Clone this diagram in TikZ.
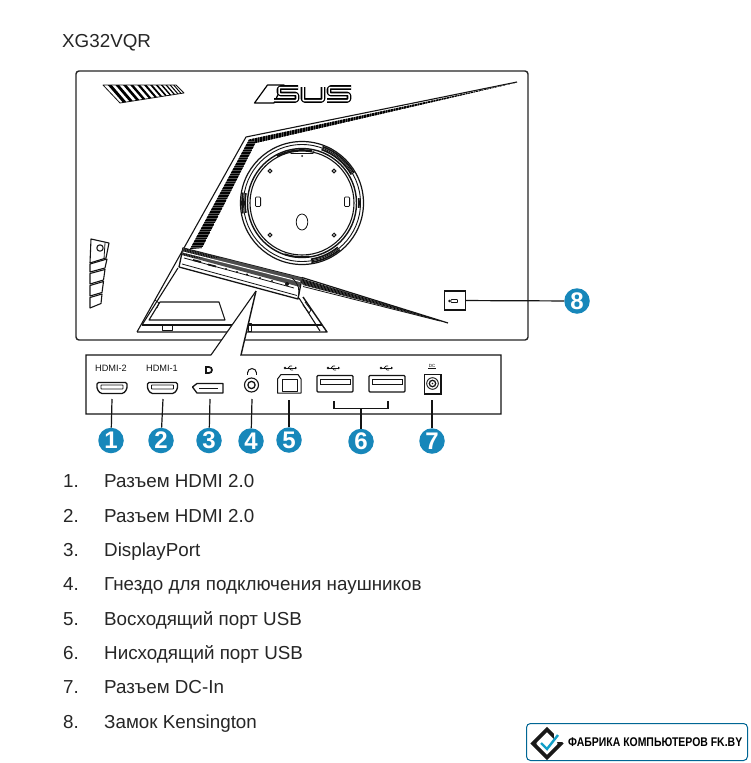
\documentclass[tikz,border=0pt]{standalone}
\usepackage{fontspec}
\setmainfont{Liberation Sans}
\newfontfamily\markfont[FakeStretch=0.83]{Liberation Sans}
\definecolor{badge}{HTML}{1787BA}
\definecolor{inkline}{HTML}{141414}
\tikzset{
  ln/.style={draw=inkline,line width=1.1pt,line join=round},
  thin ln/.style={draw=inkline,line width=0.8pt,line join=round},
  conn/.style={draw=inkline,line width=1.2pt},
  numbadge/.style={circle,fill=badge,text=white,inner sep=0pt,minimum size=25.5pt,font=\fontsize{24}{24}\selectfont\bfseries},
  porttxt/.style={inner sep=0pt,text=inkline,font=\fontsize{9.2}{10}\selectfont},
  listtxt/.style={anchor=base west,inner sep=0pt,text=black!85,font=\fontsize{18.8}{20}\selectfont},
  logoback/.style={draw=black,line width=4.6pt,line join=round,rounded corners=1.5pt},
  logofront/.style={draw=white,line width=1.5pt,line join=round,rounded corners=1pt},
  ringband/.style={draw=inkline,line width=1.7pt},
}
\newcommand{\hatchband}[3]{% polygon, spacing, slant
  \begin{scope}
    \clip #1;
    \fill[black!68] #1;
    \foreach \hx in {100,#2,...,540} {\draw[black,line width=0.7pt] (\hx,60) -- ++(#3,300);}
  \end{scope}}
\newcommand{\usbmark}[2]{%
  \draw[inkline,line width=0.7pt] (#1-5,#2) -- (#1+5,#2);
  \fill[inkline] (#1-5,#2) circle[radius=1.3];
  \fill[inkline] (#1+5,#2-1.4) -- (#1+7,#2) -- (#1+5,#2+1.4) -- cycle;
  \draw[inkline,line width=0.7pt] (#1-2,#2) -- (#1,#2-2) -- (#1+2,#2-2);
  \draw[inkline,line width=0.7pt] (#1-1,#2) -- (#1+1,#2+2) -- (#1+3,#2+2);}
\newcommand{\ringarc}[4]{% from, to, radius, style
  \draw[#4] ([shift={(302,203)}]#1:#3) arc[start angle=#1,end angle=#2,radius=#3];}
\begin{document}
\begin{tikzpicture}[x=1pt,y=-1pt]
\useasboundingbox (0,0) rectangle (750,763);
\fill[white] (0,0) rectangle (750,763);

\node[anchor=base west,inner sep=0pt,text=black!85,font=\fontsize{18.8}{20}\selectfont] (model) at (62,47) {XG32VQR};

% monitor body
\draw[draw=black!85,line width=1.4pt,rounded corners=3pt] (76,71) rectangle (528,340);

% top-left vent
\begin{scope}
  \clip (103,85) -- (176,85) -- (184,93) -- (120,103) -- cycle;
  \foreach \sx/\sw in {108/3,115.5/2.8,123/2.6,130/2.4,137/2.2,143.5/2,149.5/1.8,155/1.6,160/1.4,164.5/1.2,168.5/1,172/0.9,175.5/0.8,179/0.7}
    {\draw[black,line width=\sw pt] (\sx,83) -- ++(19,22);}
\end{scope}
\draw[thin ln] (103,85) -- (176,85) -- (184,93) -- (120,103) -- cycle;

% ASUS logo
\draw[draw=black,line width=1.2pt,line join=round] (254.5,103) -- (267.5,85) -- (284,85) -- (281,88.5) -- (274,103) -- cycle;
\foreach \st in {logoback,logofront}{
  \draw[\st] (298,87.5) -- (279,87.5) -- (279,94) -- (297,94) -- (297,100.5) -- (274,100.5);
  \draw[\st] (303,87) -- (303,100.5) -- (323,100.5) -- (323,87);
  \draw[\st] (351,87.5) -- (329,87.5) -- (329,94) -- (349,94) -- (349,100.5) -- (327,100.5);
}

% upper diagonal vents
\draw[ln] (517,82) -- (246,137) -- (137,332);
\hatchband{(517,82.5) -- (249,139.5) -- (256,143) -- cycle}{101.6}{0}
\begin{scope}
  \clip (249,139.5) -- (256,142) -- (202,248) -- (190,249) -- cycle;
  \fill[black!68] (249,139.5) -- (256,142) -- (202,248) -- (190,249) -- cycle;
  \foreach \hy in {136,137.6,...,252} {\draw[black,line width=0.8pt] (185,\hy) -- (262,\hy);}
\end{scope}

% stand
\draw[ln] (178,268) -- (142,325);
\draw[ln,line width=1.4pt] (137,332) -- (327,332) -- (303,297);
\draw[ln] (142,325) -- (322,325);
\draw[ln] (299,298) -- (320,331);
\draw[ln] (160,302) -- (219,302) -- (225,320) -- (149,320) -- cycle;
\draw[thin ln] (162,324) -- (162,330.5) -- (172,330.5) -- (172,324) -- cycle;
\draw[thin ln] (248,323) rectangle (251,331);
\draw[thin ln] (155,300) -- (159,303) -- (157,308) ;
\draw[thin ln] (305,302) -- (311,310) -- (309,313) -- (303,305);

% lower right vent
\hatchband{(300,278) -- (448,323) -- (303,285) -- cycle}{101.5}{-70}
\draw[ln,line width=1.2pt] (302,277.5) -- (448,323);
\draw[thin ln] (303,286.5) -- (440,321);

% port panel
\filldraw[fill=white,ln,line width=1.3pt] (183,248) -- (302,278) -- (298,299) -- (179,267) -- cycle;
\begin{scope}
  \clip (183,248) -- (302,278) -- (300,287) -- (182,255) -- cycle;
  \fill[black!70] (183,248) -- (302,278) -- (300,287) -- (182,255) -- cycle;
  \foreach \hx in {170,171.7,...,310} {\draw[black,line width=0.6pt] (\hx,244) -- ++(-3,14);}
  \fill[white] (183,251.5) -- (300,281) -- (300,282) -- (183,252.5) -- cycle;
\end{scope}
\draw[thin ln] (182,264) -- (297,295.5);
\draw[thin ln] (184,258) -- (294,288);
\foreach \px/\py in {226/269,237/272,247/274.5,260/278,272/281}{\fill[inkline] (\px,\py) circle[radius=1.2];}
\fill[inkline] (287,284) circle[radius=2];
\draw[inkline,line width=1.8pt] (193,260) -- (201,262);
\draw[inkline,line width=1.8pt] (208,264.5) -- (216,266.5);
\draw[thin ln] (292,278) .. controls (299,284) and (300,290) .. (298,298);

% side buttons
\draw[ln] (91,239) -- (109,243) -- (106,258) -- (90,263) -- cycle;
\draw[ln] (100,248) circle[radius=3.2];
\draw[thin ln] (105,243) -- (104,259);
\draw[ln] (90,264) -- (107,259) -- (105,268) -- (90,272) -- cycle;
\draw[ln] (90,273.5) -- (105,269.5) -- (103.5,280) -- (90,284) -- cycle;
\draw[ln] (90,285.5) -- (103.5,281.5) -- (102,292.5) -- (90,296) -- cycle;
\draw[ln] (90,297.5) -- (102,294) -- (101,303.5) -- (90,308) -- cycle;

% mount
\foreach \rr/\wd in {61.5/1.2,58.5/0.9,54.5/1.4,52/1.1}{\draw[draw=inkline,line width=\wd pt] (302,203) circle[radius=\rr];}
\ringarc{-70}{-30}{60}{ringband}
\ringarc{-70}{-30}{57}{ringband}
\ringarc{170}{190}{60}{ringband}
\ringarc{170}{190}{57}{ringband}
\ringarc{51}{81}{60}{ringband}
\ringarc{51}{81}{57}{ringband}
\ringarc{82}{109}{54}{ringband}
\ringarc{-118}{-79}{53}{ringband}
\ringarc{-5}{5}{57}{ringband}
\draw[thin ln] (290,151) -- (291,153.5) -- (313,153.5) -- (314,151);
\foreach \hx/\hy in {270/171,334/171,270/235,334/235}{\draw[draw=inkline,line width=1pt,fill=white] (\hx,\hy) circle[radius=1.8];}
\fill[inkline] (302,156) circle[radius=1];
\foreach \sx in {258,347}{\draw[thin ln,rounded corners=1pt] (\sx-2.6,197) rectangle (\sx+2.6,206.5);}
\draw[thin ln] (302,222) ellipse[x radius=5.8,y radius=8];

% Kensington
\node[draw=inkline,line width=1.3pt,minimum width=21pt,minimum height=19pt,inner sep=0pt] (lock) at (455,300.5) {};
\fill[inkline] (449.5,301) circle[radius=1.4];
\draw[inkline,line width=0.7pt,rounded corners=0.5pt] (451,299.5) rectangle (457.5,302.5);
\node[numbadge] (n8) at (577,301) {8};
\draw[conn] (lock) -- (n8);

% connector callout & panel
\coordinate (calloutA) at (256,291);
\coordinate (boxTL) at (86,355);
\coordinate (boxTR) at (501,355);
\coordinate (boxBR) at (501,414);
\coordinate (boxBL) at (86,414);
\coordinate (wedgeL) at (211,355);
\coordinate (wedgeR) at (241,355);
\fill[white] (wedgeL) -- (calloutA) -- (wedgeR) -- cycle;
\draw[draw=inkline,line width=1.4pt,line join=miter] (wedgeL) -- (boxTL) -- (boxBL) -- (boxBR) -- (boxTR) -- (wedgeR) -- (calloutA);
\draw[draw=inkline,line width=1.1pt] (wedgeL) -- (calloutA);

% port labels
\node[porttxt] (lh2) at (111,368) {HDMI-2};
\node[porttxt] (lh1) at (162,368) {HDMI-1};

% HDMI icons
\foreach \ox/\nm in {97/h2,147.5/h1}{
  \draw[draw=inkline,line width=1.3pt,rounded corners=1.5pt] (\ox,382.5) -- (\ox+30,382.5) -- (\ox+30,389) -- (\ox+26.5,393.5) -- (\ox+3.5,393.5) -- (\ox,389) -- cycle;
  \draw[thin ln,rounded corners=0.5pt] (\ox+4,385) -- (\ox+26,385) -- (\ox+26,389) -- (\ox+4,389) -- cycle;
}
\coordinate (ph2) at (112,399);
\coordinate (ph1) at (163,399);

% DP
\draw[draw=inkline,line width=1.3pt,line join=round] (192.5,387) -- (197,383.5) -- (223,383.5) -- (223,393) -- (197,393) -- cycle;
\draw[inkline,line width=1.6pt] (199,388.5) -- (218,388.5);
\fill[inkline] (205,366) rectangle (207,374);
\draw[inkline,line width=1.7pt] (206,367) -- (209,367) arc[start angle=-90,end angle=90,radius=3] -- (206,373);
\coordinate (pdp) at (210,399);

% headphones & audio jack
\draw[inkline,line width=1pt] (247.5,373) arc[start angle=180,end angle=360,radius=4.5];
\draw[inkline,line width=1.9pt] (247.5,371.5) -- (247.5,375);
\draw[inkline,line width=1.9pt] (256.5,371.5) -- (256.5,375);
\draw[inkline,line width=1.1pt] (251.5,385) circle[radius=7];
\draw[inkline,line width=1.3pt] (251.5,385) circle[radius=3.6];
\coordinate (pau) at (252,399);

% USB B
\usbmark{290}{368}
\draw[draw=inkline,line width=1pt,line join=round] (277.5,393) -- (277.5,379) -- (281,374.5) -- (298,374.5) -- (301,379) -- (301,393) -- cycle;
\draw[thin ln] (282,379.5) rectangle (297,391);
\coordinate (pub) at (289,400);

% USB A
\foreach \ox in {317,369}{
  \draw[draw=inkline,line width=1.1pt,rounded corners=1pt] (\ox,375.5) rectangle (\ox+36,392);
  \draw[draw=inkline,line width=1pt] (\ox+3.5,379.5) rectangle (\ox+33,384);
}
\usbmark{333}{368}
\usbmark{386}{368}
\coordinate (ua1) at (334,401);
\coordinate (ua2) at (388,401);
\coordinate (brk) at (361,408.5);
\draw[conn] (ua1) -- (334,408.5) -- (brk) -- (388,408.5) -- (ua2);

% DC
\node[inner sep=0pt,text=inkline,font=\fontsize{4.5}{5}\selectfont] (ldc) at (432,365.5) {DC};
\draw[inkline,line width=0.5pt] (428,368.5) -- (436,368.5);
\draw[draw=inkline,line width=1.1pt] (424.5,374.5) rectangle (441,394);
\draw[inkline,line width=0.9pt] (432.5,383.5) circle[radius=5.8];
\draw[inkline,line width=1.3pt] (432.5,383.5) circle[radius=3.2];
\fill[inkline] (432.5,383.5) circle[radius=0.9];
\coordinate (pdc) at (432,400);

% badges
\node[numbadge] (n1) at (111,440.5) {1};
\node[numbadge] (n2) at (161,440.5) {2};
\node[numbadge] (n3) at (209,440.5) {3};
\node[numbadge] (n4) at (251,441) {4};
\node[numbadge] (n5) at (289,440) {5};
\node[numbadge] (n6) at (361,441.5) {6};
\node[numbadge] (n7) at (432,441) {7};
\draw[conn] (ph2) -- (n1);
\draw[conn] (ph1) -- (n2);
\draw[conn] (pdp) -- (n3);
\draw[conn] (pau) -- (n4);
\draw[conn] (pub) -- (n5);
\draw[conn] (brk) -- (n6);
\draw[conn] (pdc) -- (n7);

% list
\foreach \yy/\num/\txt in {487/1./Разъем HDMI 2.0,522/2./Разъем HDMI 2.0,556/3./DisplayPort,590/4./Гнездо для подключения наушников,625/5./Восходящий порт USB,659/6./Нисходящий порт USB,693/7./Разъем DC-In,728/8./Замок Kensington}{
  \node[listtxt] at (63,\yy) {\num};
  \node[listtxt] at (104,\yy) {\txt};
}

% watermark
\draw[draw=black!70!blue!60!cyan,line width=1pt,rounded corners=4pt] (526.5,723.5) rectangle (747.5,760.5);
\fill[black!45] (533,743.5) -- (537,739.5) -- (537,747.5) -- cycle;
\fill[black!45] (561,743.5) -- (557,739.5) -- (557,747.5) -- cycle;
\draw[black!90,line width=3.6pt,line join=miter] (547,729.5) -- (561,743.5) -- (547,757.5) -- (533,743.5) -- cycle;
\fill[white] (553.5,730) rectangle (563,741.5);
\draw[badge!80!cyan,line width=2.4pt] (541,743) -- (547,749) -- (558,735);
\node[anchor=west,inner sep=0pt,text=black,font=\markfont\fontsize{12.6}{14}\selectfont\bfseries] (wm) at (568,742.5) {ФАБРИКА КОМПЬЮТЕРОВ FK.BY};
\end{tikzpicture}
\end{document}
